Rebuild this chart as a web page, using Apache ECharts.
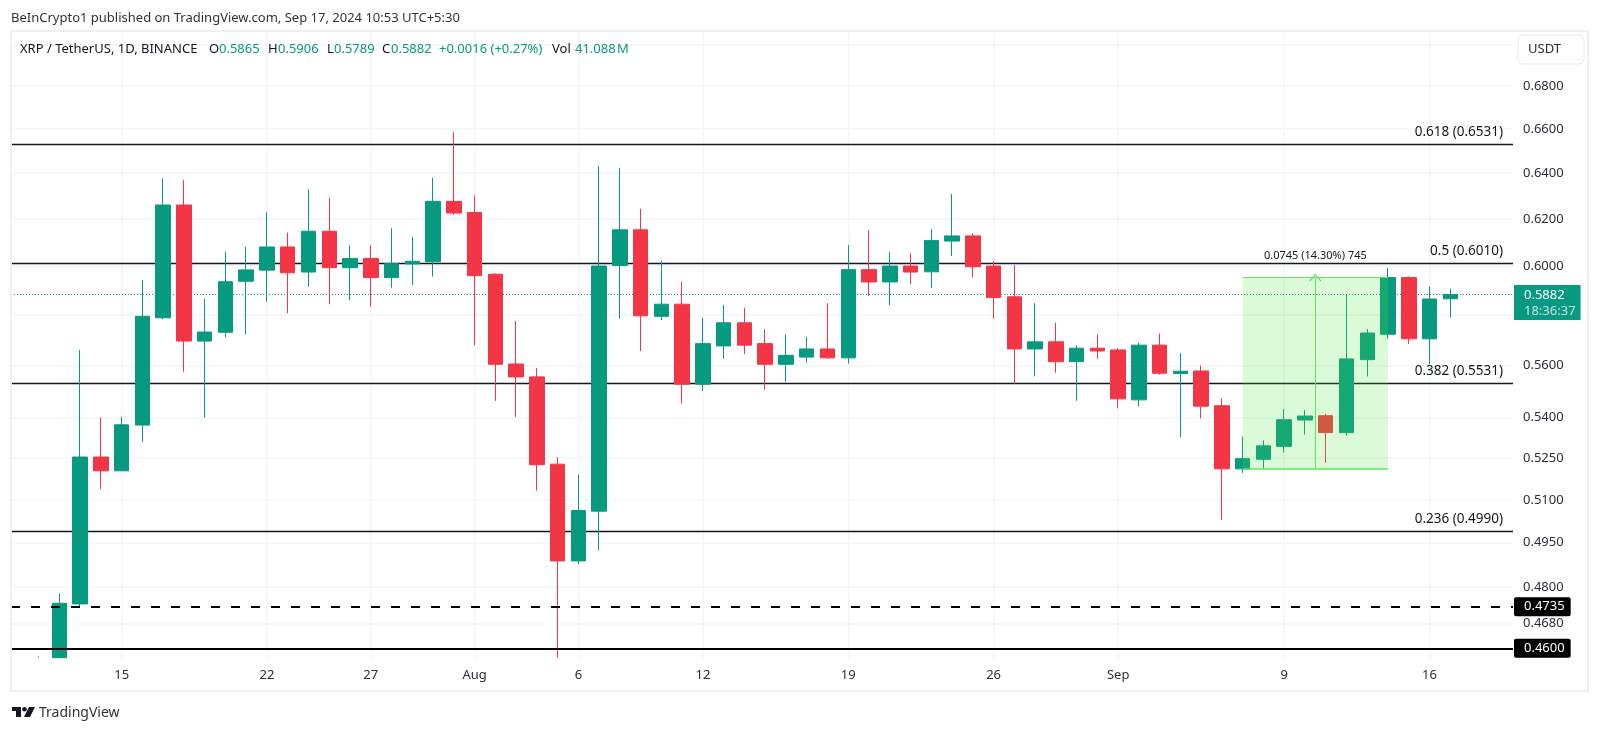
<!DOCTYPE html>
<html>
<head>
<meta charset="utf-8">
<title>XRP / TetherUS</title>
<style>
html, body { margin: 0; padding: 0; background: #fff; }
#chart { width: 1600px; height: 732px; }
</style>
<script src="https://cdn.jsdelivr.net/npm/echarts@6/dist/echarts.min.js"></script>
</head>
<body>
<div id="chart"></div>
<script>
var dates = [
	'2024-07-11','2024-07-12','2024-07-13','2024-07-14','2024-07-15','2024-07-16','2024-07-17','2024-07-18','2024-07-19','2024-07-20',
	'2024-07-21','2024-07-22','2024-07-23','2024-07-24','2024-07-25','2024-07-26','2024-07-27','2024-07-28','2024-07-29','2024-07-30',
	'2024-07-31','2024-08-01','2024-08-02','2024-08-03','2024-08-04','2024-08-05','2024-08-06','2024-08-07','2024-08-08','2024-08-09',
	'2024-08-10','2024-08-11','2024-08-12','2024-08-13','2024-08-14','2024-08-15','2024-08-16','2024-08-17','2024-08-18','2024-08-19',
	'2024-08-20','2024-08-21','2024-08-22','2024-08-23','2024-08-24','2024-08-25','2024-08-26','2024-08-27','2024-08-28','2024-08-29',
	'2024-08-30','2024-08-31','2024-09-01','2024-09-02','2024-09-03','2024-09-04','2024-09-05','2024-09-06','2024-09-07','2024-09-08',
	'2024-09-09','2024-09-10','2024-09-11','2024-09-12','2024-09-13','2024-09-14','2024-09-15','2024-09-16','2024-09-17'
];
var opens = [
	0.4570,0.4570,0.4744,0.5254,0.5204,0.5372,0.5788,0.6260,0.5695,0.5730,
	0.5937,0.5983,0.6080,0.5975,0.6147,0.5993,0.6032,0.5952,0.6009,0.6018,
	0.6276,0.6228,0.5966,0.5605,0.5555,0.5228,0.4888,0.5060,0.6002,0.6153,
	0.5794,0.5843,0.5527,0.5676,0.5768,0.5685,0.5604,0.5632,0.5664,0.5629,
	0.5985,0.5934,0.6000,0.5976,0.6105,0.6127,0.6000,0.5873,0.5664,0.5692,
	0.5614,0.5667,0.5660,0.5467,0.5679,0.5568,0.5578,0.5445,0.5211,0.5246,
	0.5293,0.5391,0.5407,0.5344,0.5622,0.5722,0.5952,0.5704,0.5865
];
var closes = [
	0.4574,0.4746,0.5254,0.5204,0.5373,0.5794,0.6260,0.5695,0.5731,0.5935,
	0.5984,0.6080,0.5972,0.6147,0.5993,0.6032,0.5952,0.6010,0.6020,0.6276,
	0.6225,0.5960,0.5604,0.5555,0.5226,0.4888,0.5062,0.6000,0.6153,0.5796,
	0.5843,0.5527,0.5685,0.5768,0.5679,0.5604,0.5639,0.5664,0.5629,0.5985,
	0.5934,0.6000,0.5975,0.6107,0.6127,0.5997,0.5870,0.5664,0.5692,0.5614,
	0.5667,0.5656,0.5471,0.5679,0.5569,0.5577,0.5443,0.5211,0.5248,0.5295,
	0.5392,0.5406,0.5344,0.5625,0.5727,0.5952,0.5704,0.5864,0.5882
];
var lows = [
	0.4570,0.4570,0.4735,0.5139,0.5204,0.5310,0.5783,0.5575,0.5400,0.5709,
	0.5722,0.5853,0.5807,0.5914,0.5843,0.5860,0.5833,0.5910,0.5921,0.5956,
	0.6217,0.5678,0.5463,0.5403,0.5133,0.4570,0.4878,0.4924,0.5784,0.5656,
	0.5779,0.5453,0.5502,0.5625,0.5644,0.5505,0.5536,0.5610,0.5625,0.5607,
	0.5877,0.5839,0.5925,0.5910,0.6042,0.5952,0.5784,0.5528,0.5557,0.5571,
	0.5464,0.5625,0.5435,0.5441,0.5564,0.5327,0.5397,0.5029,0.5197,0.5212,
	0.5270,0.5337,0.5233,0.5333,0.5557,0.5704,0.5684,0.5605,0.5789
];
var highs = [
	0.4574,0.4780,0.5660,0.5400,0.5403,0.5942,0.6376,0.6369,0.5866,0.6061,
	0.6080,0.6228,0.6141,0.6329,0.6290,0.6087,0.6087,0.6160,0.6123,0.6380,
	0.6585,0.6302,0.5970,0.5775,0.5589,0.5254,0.5189,0.6432,0.6424,0.6244,
	0.6022,0.5935,0.5788,0.5840,0.5828,0.5743,0.5722,0.5712,0.5847,0.6088,
	0.6151,0.6058,0.6054,0.6157,0.6308,0.6138,0.6020,0.6004,0.5847,0.5768,
	0.5679,0.5722,0.5667,0.5688,0.5725,0.5648,0.5599,0.5473,0.5329,0.5315,
	0.5433,0.5429,0.5414,0.5883,0.5743,0.5992,0.5957,0.5915,0.5906
];

var priceTicks = [0.70, 0.68, 0.66, 0.64, 0.62, 0.60, 0.58, 0.56, 0.54, 0.525, 0.51, 0.495, 0.48, 0.468];
var dateTicks = ['2024-07-15','2024-07-22','2024-07-27','2024-08-01','2024-08-06','2024-08-12','2024-08-19','2024-08-26','2024-09-01','2024-09-09','2024-09-16'];
var dateTickLabels = ['15','22','27','Aug','6','12','19','26','Sep','9','16'];

var fibLevels = [0.6531, 0.6010, 0.5531, 0.4990];
var fibRatios = ['0.618', '0.5', '0.382', '0.236'];
var lastPrice = 0.5882;
var dashedLevel = 0.4735;
var floorLevel = 0.4600;
var rangeLow = 0.5212;
var rangeHigh = 0.5952;

var FONT = '"Noto Sans", sans-serif';
var UP = '#089981';
var DOWN = '#F23645';
var INK = '#131722';
var GRID = '#f3f4f6';
var RANGE = '#5ee65e';

function ts(d) {
	return +new Date(d + 'T00:00:00');
}
var DAY = 86400000;
var tickStamps = dateTicks.map(ts);

var candles = dates.map(function (d, i) {
	return [ts(d), opens[i], closes[i], lows[i], highs[i]];
});

var candleStyle = {
	color: UP,
	color0: DOWN,
	borderColor: UP,
	borderColor0: DOWN,
	borderWidth: 1
};

var fibLines = fibLevels.map(function (v, i) {
	return {
		yAxis: v,
		lineStyle: { color: INK, width: 1.4, type: 'solid' },
		label: {
			show: true,
			position: 'insideEndTop',
			distance: 5,
			padding: [0, 5, 0, 0],
			formatter: fibRatios[i] + ' (' + v.toFixed(4) + ')',
			color: INK,
			fontFamily: FONT,
			fontSize: 13.5
		}
	};
});

function tag(v) {
	return {
		yAxis: v,
		lineStyle: { color: '#000', width: 2, type: v === dashedLevel ? [9, 11] : 'solid' },
		label: {
			show: true,
			position: 'end',
			distance: 1,
			formatter: v.toFixed(4),
			color: '#fff',
			backgroundColor: '#000',
			borderRadius: 2,
			padding: [3, 6, 3, 10],
			fontFamily: FONT,
			fontSize: 13
		}
	};
}

function txt(x, y, text, color, size) {
	return {
		type: 'text',
		x: x,
		y: y,
		z: 51,
		silent: true,
		style: {
			text: text,
			fill: color,
			font: (size || 13) + 'px ' + FONT,
			verticalAlign: 'middle'
		}
	};
}

var arrowX = ts('2024-09-10') + DAY / 2;

var option = {
	animation: false,
	backgroundColor: '#fff',
	grid: { left: 11, top: 31, right: 87, bottom: 74 },
	xAxis: {
		type: 'value',
		scale: true,
		min: ts('2024-07-15') - 5.33 * DAY,
		max: ts('2024-07-15') + 67.02 * DAY,
		axisLine: { show: false },
		axisTick: { show: false, customValues: tickStamps },
		axisLabel: {
			customValues: tickStamps,
			margin: 11,
			color: '#2a2e39',
			fontFamily: FONT,
			fontSize: 13,
			formatter: function (v) {
				return dateTickLabels[tickStamps.indexOf(v)];
			}
		},
		splitLine: { show: true, lineStyle: { color: GRID, width: 1.5 } }
	},
	yAxis: {
		type: 'log',
		logBase: 10,
		position: 'right',
		min: 0.4569,
		max: 0.7065,
		axisLine: { show: false },
		axisTick: { show: false, customValues: priceTicks },
		axisLabel: {
			customValues: priceTicks,
			margin: 10,
			color: '#2a2e39',
			fontFamily: FONT,
			fontSize: 13,
			formatter: function (v) {
				return v.toFixed(4);
			}
		},
		splitLine: { show: true, lineStyle: { color: GRID, width: 1.5 } }
	},
	series: [
		{
			name: 'levels',
			type: 'line',
			data: [],
			z: 1,
			silent: true,
			markLine: {
				z: 1,
				silent: true,
				symbol: 'none',
				precision: 4,
				data: fibLines.concat([{
					yAxis: lastPrice,
					lineStyle: { color: UP, width: 1, type: [1, 2] },
					label: {
						show: true,
						position: 'end',
						distance: 1,
						offset: [0, 8],
						formatter: '{p|' + lastPrice.toFixed(4) + '}\n{t|18:36:37}',
						backgroundColor: UP,
						padding: [2, 5, 1, 10],
						rich: {
							p: { color: '#fff', fontFamily: FONT, fontSize: 13, lineHeight: 16, align: 'left' },
							t: { color: '#c4e6e0', fontFamily: FONT, fontSize: 13, lineHeight: 16, align: 'left' }
						}
					}
				}])
			}
		},
		{
			name: 'XRP / TetherUS',
			type: 'candlestick',
			data: candles.slice(1),
			z: 2,
			barWidth: 15,
			silent: true,
			itemStyle: candleStyle
		},
		{
			// only the top of this wick is on screen, its body is below the chart
			name: 'cut off candle',
			type: 'candlestick',
			data: candles.slice(0, 1),
			z: 2,
			barWidth: 1,
			silent: true,
			itemStyle: candleStyle
		},
		{
			name: 'range',
			type: 'line',
			data: [],
			z: 5,
			silent: true,
			markArea: {
				z: 5,
				silent: true,
				itemStyle: { color: 'rgba(76,230,60,0.2)' },
				label: {
					show: true,
					position: 'top',
					distance: 16,
					color: INK,
					fontFamily: FONT,
					fontSize: 11
				},
				data: [[
					{ name: '0.0745 (14.30%) 745', coord: [ts('2024-09-07'), rangeHigh] },
					{ coord: [ts('2024-09-14'), rangeLow] }
				]]
			},
			markLine: {
				z: 6,
				silent: true,
				symbol: 'none',
				precision: 4,
				label: { show: false },
				data: [
					[
						{ coord: [ts('2024-09-07'), rangeHigh], lineStyle: { color: RANGE, width: 1, type: 'solid' } },
						{ coord: [ts('2024-09-14'), rangeHigh] }
					],
					[
						{ coord: [ts('2024-09-07'), rangeLow], lineStyle: { color: RANGE, width: 1.5, type: 'solid' } },
						{ coord: [ts('2024-09-14'), rangeLow] }
					],
					[
						{ coord: [arrowX, rangeLow], lineStyle: { color: RANGE, width: 1, type: 'solid' } },
						{
							coord: [arrowX, rangeHigh],
							symbol: 'path://M0,9 L6,0 L12,9 L11,10 L6,2 L1,10 Z',
							symbolSize: [12, 8]
						}
					]
				]
			}
		},
		{
			name: 'support',
			type: 'line',
			data: [],
			z: 6,
			silent: true,
			markLine: {
				z: 6,
				silent: true,
				symbol: 'none',
				precision: 4,
				data: [tag(dashedLevel), tag(floorLevel)]
			}
		}
	],
	graphic: [
		// frame around the chart
		{ type: 'rect', silent: true, z: 50, shape: { x: 11, y: 31, width: 1577, height: 660 }, style: { fill: 'none', stroke: '#eeeff3', lineWidth: 2 } },
		// currency button
		{ type: 'rect', silent: true, z: 50, shape: { x: 1518, y: 35, width: 66, height: 29, r: 5 }, style: { fill: '#fff', stroke: '#e8e9ee', lineWidth: 1 } },
		txt(1528, 49, 'USDT', '#2a2e39'),
		// header
		txt(11, 18, 'BeInCrypto1 published on TradingView.com, Sep 17, 2024 10:53 UTC+5:30', '#333'),
		txt(20, 49, 'XRP / TetherUS, 1D, BINANCE', INK),
		txt(209, 49, 'O', INK), txt(219, 49, '0.5865', UP),
		txt(268, 49, 'H', INK), txt(278, 49, '0.5906', UP),
		txt(327, 49, 'L', INK), txt(334, 49, '0.5789', UP),
		txt(382, 49, 'C', INK), txt(391, 49, '0.5882', UP),
		txt(439, 49, '+0.0016 (+0.27%)', UP),
		txt(552, 49, 'Vol', INK), txt(575, 49, '41.088', UP), txt(617, 49, 'M', UP),
		// logo
		{ type: 'polygon', silent: true, shape: { points: [[12, 707], [21, 707], [21, 717], [16, 717], [16, 711], [12, 711]] }, style: { fill: '#131722' } },
		{ type: 'circle', silent: true, shape: { cx: 24.5, cy: 709.3, r: 2.3 }, style: { fill: '#131722' } },
		{ type: 'polygon', silent: true, shape: { points: [[29, 707], [35, 707], [30, 717], [24, 717]] }, style: { fill: '#131722' } },
		txt(39, 713, 'TradingView', '#333', 14)
	]
};

var chart = echarts.init(document.getElementById('chart'));
chart.setOption(option);
</script>
</body>
</html>
